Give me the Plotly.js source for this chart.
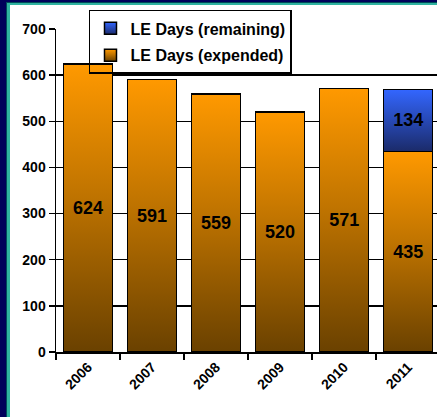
<!DOCTYPE html>
<html>
<head>
<meta charset="utf-8">
<script src="https://cdn.plot.ly/plotly-3.0.1.min.js"></script>
<style>
  html, body { margin: 0; padding: 0; width: 437px; height: 417px; overflow: hidden; background: #00005a; }
  #frame { position: absolute; left: 6px; top: 2px; width: 431px; height: 415px; background: #2fb3a0; border-left: 1px solid #004a5a; border-top: 1px solid #004a5a; }
  #chart { position: absolute; left: 10px; top: 5px; width: 427px; height: 412px; background: #fff; }
</style>
</head>
<body>
<div id="frame"></div>
<div id="chart"></div>
<script>
const years = ['2006', '2007', '2008', '2009', '2010', '2011'];
const expended = [624, 591, 559, 520, 571, 435];
const remaining = [null, null, null, null, null, 134];
const yTicks = [0, 100, 200, 300, 400, 500, 600, 700];
const seriesNames = ['LE Days (expended)', 'LE Days (remaining)'];

const FONT = 'Arial, "Liberation Sans", sans-serif';

const traces = [
  {
    type: 'bar', name: '<b>' + seriesNames[0] + '</b>', legendgroup: 'a', legendrank: 2, x: years, y: expended,
    marker: { color: '#ff9900', line: { color: '#000', width: 1.5 } },
    texttemplate: '<b>%{y}</b>', textposition: 'inside', insidetextanchor: 'middle', textangle: 0,
    textfont: { family: FONT, size: 18, color: '#000' },
    hoverinfo: 'none'
  },
  {
    type: 'bar', name: '<b>' + seriesNames[1] + '</b>', legendgroup: 'b', legendrank: 1, x: years, y: remaining,
    marker: { color: '#3366ff', line: { color: '#000', width: 1.5 } },
    texttemplate: '<b>%{y}</b>', textposition: 'inside', insidetextanchor: 'middle', textangle: 0,
    textfont: { family: FONT, size: 18, color: '#000' },
    hoverinfo: 'none'
  }
];

const layout = {
  width: 427, height: 412,
  margin: { l: 46, r: 0, t: 24, b: 65 },
  paper_bgcolor: '#ffffff', plot_bgcolor: '#ffffff',
  barmode: 'stack', bargap: 0.234,
  font: { family: FONT, color: '#000' },
  showlegend: true,
  legend: {
    x: 0.0866, y: 1.059, xanchor: 'left', yanchor: 'top',
    bgcolor: 'rgba(0,0,0,0)', bordercolor: '#000', borderwidth: 1.5,
    traceorder: 'grouped', tracegroupgap: 3,
    font: { family: FONT, size: 16, color: '#000' }
  },
  shapes: [{
    type: 'rect', xref: 'paper', yref: 'paper', layer: 'between',
    x0: 0.0866, x1: 0.618, y0: 0.866, y1: 1.059,
    fillcolor: '#ffffff', line: { width: 0 }
  }],
  xaxis: {
    type: 'category', range: [-0.5, 5.45],
    tickson: 'boundaries', ticks: 'outside', ticklen: 6, tickwidth: 1.5, tickcolor: '#000',
    showline: true, linecolor: '#000', linewidth: 1.5,
    tickangle: -45,
    tickfont: { family: FONT, size: 14, weight: 'bold', color: '#000' },
    showgrid: false, fixedrange: true
  },
  yaxis: {
    range: [0, 700], tickmode: 'array', tickvals: yTicks,
    ticks: 'outside', ticklen: 6, tickwidth: 1.5, tickcolor: '#000',
    showline: true, linecolor: '#000', linewidth: 1.5,
    showgrid: true, gridcolor: '#000', gridwidth: 1.5, zeroline: false,
    tickfont: { family: FONT, size: 14, weight: 'bold', color: '#000' },
    fixedrange: true
  }
};

function addGradients(gd) {
  const svg = gd.querySelector('svg.main-svg');
  const ns = 'http://www.w3.org/2000/svg';
  let defs = svg.querySelector('defs');
  if (!defs) { defs = document.createElementNS(ns, 'defs'); svg.insertBefore(defs, svg.firstChild); }
  const mk = (id, stops) => {
    const g = document.createElementNS(ns, 'linearGradient');
    g.setAttribute('id', id);
    g.setAttribute('x1', '0'); g.setAttribute('y1', '0');
    g.setAttribute('x2', '0'); g.setAttribute('y2', '1');
    stops.forEach(([o, c]) => {
      const s = document.createElementNS(ns, 'stop');
      s.setAttribute('offset', o); s.setAttribute('stop-color', c);
      g.appendChild(s);
    });
    defs.appendChild(g);
  };
  mk('gradOrange', [['0', '#ff9900'], ['0.45', '#c07400'], ['1', '#6a4100']]);
  mk('gradBlue', [['0', '#3366ff'], ['1', '#1b2b6a']]);
  const fills = ['url(#gradOrange)', 'url(#gradBlue)'];
  gd.querySelectorAll('.barlayer .trace').forEach((t, i) => {
    t.querySelectorAll('.point path').forEach(p => { p.style.fill = fills[i]; });
  });
  gd.querySelectorAll('.legend .traces').forEach(t => {
    const d = t.__data__;
    const idx = d && d[0] && d[0].trace ? d[0].trace.index : 0;
    t.querySelectorAll('.legendpoints path').forEach(p => { p.style.fill = fills[idx]; });
  });
}

Plotly.newPlot('chart', traces, layout, { displayModeBar: false, staticPlot: true })
  .then(addGradients);
</script>
</body>
</html>
